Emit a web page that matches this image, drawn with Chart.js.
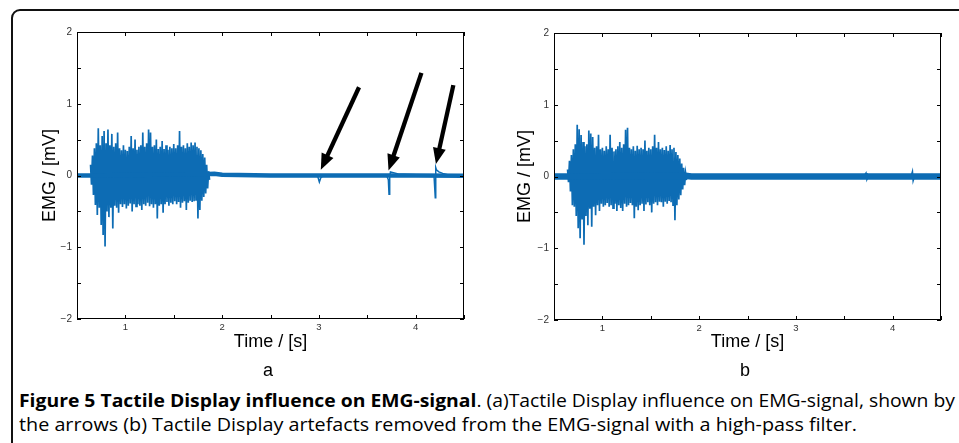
<!DOCTYPE html>
<html>
<head>
<meta charset="utf-8">
<script src="https://cdn.jsdelivr.net/npm/chart.js@4.4.1/dist/chart.umd.min.js"></script>
<style>
  body { margin: 0; background: #fff; width: 959px; height: 443px; overflow: hidden; position: relative; }
  #frame { position: absolute; left: 11px; top: 9px; width: 1000px; height: 500px; border: 2px solid #111; border-radius: 9px; box-sizing: border-box; }
  canvas { position: absolute; }
  .sub { position: absolute; top: 360px; width: 40px; margin-left: -20px; text-align: center; font: 18px "Liberation Sans", Arial, sans-serif; line-height: 20px; }
  #cap { position: absolute; left: 19px; top: 389px; font-family: "Open Sans", sans-serif; font-size: 17.5px; line-height: 23.5px; color: #000; white-space: nowrap; }
  #cap span.l { display: inline-block; transform-origin: left top; }
</style>
</head>
<body>
<div id="frame"></div>
<canvas id="chartA" width="445" height="345" style="left:25px;top:20px"></canvas>
<canvas id="chartB" width="445" height="345" style="left:500px;top:20px"></canvas>
<div class="sub" style="left:268px">a</div>
<div class="sub" style="left:745px">b</div>
<div id="cap">
  <span class="l" id="l1"><b>Figure 5 Tactile Display influence on EMG-signal</b>. (a)Tactile Display influence on EMG-signal, shown by</span><br>
  <span class="l" id="l2">the arrows (b) Tactile Display artefacts removed from the EMG-signal with a high-pass filter.</span>
</div>
<script>
// burst envelope, sampled every 0.02 s from 0.64 s to 1.86 s (peak above / peak below)
var burstStart = 0.64;
var burstStep = 0.02;
var upperA = [0.15, 0.28, 0.38, 0.45, 0.66, 0.42, 0.55, 0.62, 0.45, 0.64, 0.42, 0.58, 0.40, 0.45, 0.60, 0.38,
  0.35, 0.42, 0.36, 0.34, 0.40, 0.55, 0.38, 0.50, 0.36, 0.40, 0.42, 0.60, 0.40, 0.45, 0.64, 0.60,
  0.40, 0.42, 0.50, 0.37, 0.40, 0.48, 0.37, 0.42, 0.36, 0.40, 0.38, 0.44, 0.38, 0.42, 0.62, 0.40,
  0.42, 0.38, 0.45, 0.40, 0.46, 0.42, 0.46, 0.40, 0.38, 0.35, 0.30, 0.25, 0.15, 0.06];
var lowerA = [-0.13, -0.27, -0.41, -0.55, -0.45, -0.69, -0.83, -0.99, -0.50, -0.58, -0.45, -0.74, -0.42, -0.45, -0.52, -0.40,
  -0.44, -0.40, -0.46, -0.42, -0.39, -0.50, -0.40, -0.43, -0.40, -0.42, -0.48, -0.40, -0.42, -0.38, -0.43, -0.40,
  -0.45, -0.40, -0.60, -0.42, -0.40, -0.52, -0.40, -0.37, -0.42, -0.38, -0.40, -0.36, -0.40, -0.37, -0.45, -0.38,
  -0.36, -0.48, -0.38, -0.35, -0.37, -0.36, -0.34, -0.60, -0.48, -0.35, -0.30, -0.25, -0.18, -0.06];
var upperB = [0.10, 0.22, 0.30, 0.38, 0.45, 0.72, 0.66, 0.58, 0.48, 0.42, 0.45, 0.64, 0.60, 0.55, 0.40, 0.42,
  0.58, 0.38, 0.40, 0.36, 0.42, 0.38, 0.58, 0.40, 0.35, 0.38, 0.42, 0.48, 0.40, 0.45, 0.65, 0.68,
  0.40, 0.38, 0.42, 0.36, 0.43, 0.38, 0.40, 0.38, 0.50, 0.36, 0.40, 0.38, 0.42, 0.58, 0.40, 0.48,
  0.38, 0.40, 0.37, 0.42, 0.36, 0.44, 0.38, 0.40, 0.34, 0.30, 0.25, 0.18, 0.12, 0.05];
var lowerB = [-0.08, -0.21, -0.40, -0.42, -0.55, -0.72, -0.86, -0.60, -0.95, -0.55, -0.68, -0.45, -0.70, -0.42, -0.54, -0.40,
  -0.48, -0.38, -0.42, -0.40, -0.37, -0.42, -0.40, -0.44, -0.38, -0.48, -0.40, -0.44, -0.48, -0.38, -0.42, -0.40,
  -0.37, -0.40, -0.58, -0.42, -0.47, -0.40, -0.38, -0.48, -0.39, -0.36, -0.40, -0.50, -0.38, -0.36, -0.40, -0.35,
  -0.36, -0.42, -0.35, -0.38, -0.34, -0.36, -0.40, -0.61, -0.40, -0.32, -0.26, -0.18, -0.12, -0.05];

// resting baseline
var baseTimes = [0.5, 0.64, 1.86, 1.92, 2.0, 2.5, 3.0, 3.5, 4.0, 4.5];
var baseValsA = [0.0, 0.0, 0.02, 0.025, 0.01, 0.0, 0.0, 0.0, 0.0, -0.005];
var baseValsB = [0.0, 0.0, 0.01, 0.0, 0.0, 0.0, 0.0, 0.0, 0.0, 0.0];

// tactile display artefacts
var artTimesA = [2.96, 2.99, 3.005, 3.02, 3.05, 3.70, 3.718, 3.725, 3.732, 3.74, 3.77, 3.82, 4.19, 4.203, 4.208, 4.215, 4.24, 4.28, 4.33];
var artValsA = [0.0, -0.02, -0.09, -0.03, 0.0, 0.0, -0.06, -0.26, -0.02, 0.05, 0.04, 0.02, 0.0, -0.31, 0.11, 0.08, 0.05, 0.03, 0.01];
var artTimesB = [3.70, 3.725, 3.735, 3.75, 4.19, 4.205, 4.212, 4.225];
var artValsB = [0.0, 0.05, -0.04, 0.0, 0.0, 0.07, -0.06, 0.0];

// arrows in panel a (tail -> tip)
var arrowTailT = [3.415, 4.06, 4.39];
var arrowTailV = [1.23, 1.43, 1.26];
var arrowTipT = [3.02, 3.72, 4.21];
var arrowTipV = [0.08, 0.07, 0.16];

var xTicks = { min: 0.5, max: 4.5, step: 0.5 };
var yTicks = { min: -2, max: 2, step: 0.5 };

var blue = 'rgb(13, 108, 180)';

function burstPoints(up, lo) {
    var pts = [];
    for (var i = 0; i < up.length; i++) {
        var t = burstStart + i * burstStep;
        pts.push({ x: t, y: up[i] });
        pts.push({ x: t + burstStep / 2, y: lo[i] });
    }
    return pts;
}

function pairs(ts, vs) {
    var pts = [];
    for (var i = 0; i < ts.length; i++) pts.push({ x: ts[i], y: vs[i] });
    return pts;
}

function tickLabel(v) {
    if (!Number.isInteger(v)) return '';
    return v < 0 ? '\u2212' + Math.abs(v) : String(v);
}

// MATLAB style box with inward ticks on all four sides
var boxTicks = {
    id: 'boxTicks',
    afterDatasetsDraw: function (chart) {
        var ctx = chart.ctx, a = chart.chartArea, x = chart.scales.x, y = chart.scales.y;
        ctx.save();
        ctx.strokeStyle = '#000';
        ctx.lineWidth = 1;
        ctx.beginPath();
        x.ticks.forEach(function (t) {
            var px = Math.round(x.getPixelForValue(t.value)) + 0.5;
            ctx.moveTo(px, a.bottom); ctx.lineTo(px, a.bottom - 4);
            ctx.moveTo(px, a.top); ctx.lineTo(px, a.top + 4);
        });
        y.ticks.forEach(function (t) {
            var py = Math.round(y.getPixelForValue(t.value)) + 0.5;
            ctx.moveTo(a.left, py); ctx.lineTo(a.left + 4, py);
            ctx.moveTo(a.right, py); ctx.lineTo(a.right - 4, py);
        });
        ctx.stroke();
        ctx.strokeRect(Math.round(a.left) + 0.5, Math.round(a.top) + 0.5,
            Math.round(a.right - a.left) - 1, Math.round(a.bottom - a.top) - 1);
        ctx.restore();
    }
};

var arrows = {
    id: 'arrows',
    afterDatasetsDraw: function (chart, args, opts) {
        if (!opts || !opts.show) return;
        var ctx = chart.ctx, x = chart.scales.x, y = chart.scales.y;
        ctx.save();
        ctx.fillStyle = '#000';
        ctx.strokeStyle = '#000';
        ctx.lineWidth = 4.3;
        for (var i = 0; i < arrowTipT.length; i++) {
            var x0 = x.getPixelForValue(arrowTailT[i]), y0 = y.getPixelForValue(arrowTailV[i]);
            var x1 = x.getPixelForValue(arrowTipT[i]), y1 = y.getPixelForValue(arrowTipV[i]);
            var ang = Math.atan2(y1 - y0, x1 - x0);
            var hl = 16, hw = 6.5;
            var bx = x1 - hl * Math.cos(ang), by = y1 - hl * Math.sin(ang);
            ctx.beginPath();
            ctx.moveTo(x0, y0);
            ctx.lineTo(bx + 2 * Math.cos(ang), by + 2 * Math.sin(ang));
            ctx.stroke();
            ctx.beginPath();
            ctx.moveTo(x1, y1);
            ctx.lineTo(bx + hw * Math.sin(ang), by - hw * Math.cos(ang));
            ctx.lineTo(bx - hw * Math.sin(ang), by + hw * Math.cos(ang));
            ctx.closePath();
            ctx.fill();
        }
        ctx.restore();
    }
};

function makeChart(id, up, lo, baseVals, baseWidth, artT, artV, yAxisW, pad, showArrows) {
    var ctx = document.getElementById(id).getContext('2d');
    return new Chart(ctx, {
        type: 'line',
        data: {
            datasets: [{
                data: pairs(baseTimes, baseVals),
                borderColor: blue, borderWidth: baseWidth, pointRadius: 0, tension: 0
            }, {
                data: burstPoints(up, lo),
                borderColor: blue, borderWidth: 1.7, pointRadius: 0, tension: 0
            }, {
                data: pairs(artT, artV),
                borderColor: blue, borderWidth: 1.5, pointRadius: 0, tension: 0
            }]
        },
        options: {
            responsive: false,
            animation: false,
            events: [],
            layout: { padding: { top: pad.top, right: pad.right, left: 0, bottom: 0 } },
            plugins: { legend: { display: false }, tooltip: { enabled: false }, arrows: { show: showArrows } },
            scales: {
                x: {
                    type: 'linear', min: xTicks.min, max: xTicks.max,
                    grid: { display: false, drawTicks: false, tickLength: 0 }, border: { display: false },
                    ticks: { stepSize: xTicks.step, autoSkip: false, maxRotation: 0, padding: 3, color: '#333',
                        font: { family: 'Liberation Sans', size: 9.5 }, callback: tickLabel },
                    title: { display: true, text: 'Time / [s]', color: '#000',
                        font: { family: 'Liberation Sans', size: 18 }, padding: { top: 0, bottom: 12 } },
                    afterFit: function (s) { s.height = pad.axisH; }
                },
                y: {
                    type: 'linear', min: yTicks.min, max: yTicks.max,
                    grid: { display: false, drawTicks: false, tickLength: 0 }, border: { display: false },
                    ticks: { stepSize: yTicks.step, autoSkip: false, padding: 5, color: '#333',
                        font: { family: 'Liberation Sans', size: 10 }, callback: tickLabel },
                    title: { display: true, text: 'EMG / [mV]', color: '#000',
                        font: { family: 'Liberation Sans', size: 18 }, padding: { top: pad.titleY, bottom: 0 } },
                    afterFit: function (s) { s.width = yAxisW; }
                }
            }
        },
        plugins: [boxTicks, arrows]
    });
}

makeChart('chartA', upperA, lowerA, baseValsA, 4.5, artTimesA, artValsA, 52, { top: 12, right: 6, axisH: 46, titleY: 14.7 }, true);
makeChart('chartB', upperB, lowerB, baseValsB, 6.5, artTimesB, artValsB, 54, { top: 13, right: 4, axisH: 45, titleY: 14.2 }, false);

// squeeze each caption line to the width of the printed one
function fitLine(id, w) {
    var el = document.getElementById(id);
    el.style.transform = 'scaleX(' + (w / el.getBoundingClientRect().width) + ')';
}
fitLine('l1', 936);
fitLine('l2', 838);
</script>
</body>
</html>
